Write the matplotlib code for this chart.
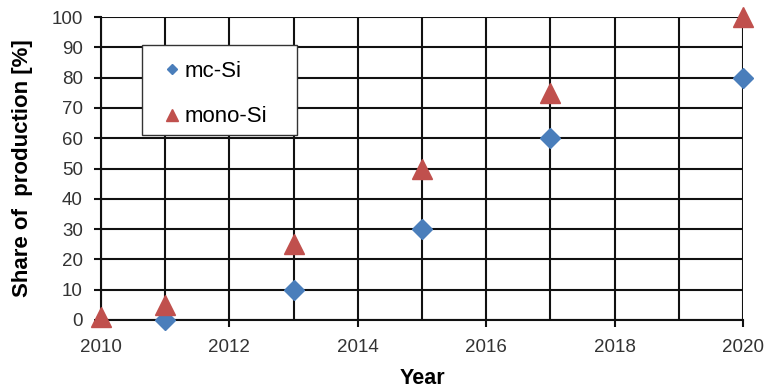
import matplotlib
matplotlib.use("Agg")
import matplotlib.pyplot as plt
from matplotlib.patches import Rectangle
from matplotlib.ticker import MultipleLocator

# Production share by wafer type
mc_years = [2011, 2013, 2015, 2017, 2020]
mc_share = [0, 10, 30, 60, 80]
mono_years = [2010, 2011, 2013, 2015, 2017, 2020]
mono_share = [1, 5, 25, 50, 75, 100]

x_ticks = [2010, 2012, 2014, 2016, 2018, 2020]
y_ticks = list(range(0, 101, 10))

plt.rcParams['font.family'] = ['Liberation Sans', 'DejaVu Sans']

fig = plt.figure(figsize=(7.71, 3.91), dpi=100)
ax = fig.add_axes([0.131, 0.1816, 0.8327, 0.7749])

ax.set_xlim(2010, 2020)
ax.set_ylim(0, 100)
ax.set_xticks(x_ticks)
ax.set_yticks(y_ticks)
ax.xaxis.set_minor_locator(MultipleLocator(1))
ax.grid(True, which='major', color='#111111', linewidth=1.5)
ax.grid(True, which='minor', axis='x', color='#111111', linewidth=1.5)
ax.tick_params(axis='x', which='minor', length=0)
ax.tick_params(axis='both', which='major', length=5, width=1.5, color='#111111',
               labelsize=13.5, labelcolor='#333333')
ax.tick_params(axis='x', pad=9)
ax.tick_params(axis='y', pad=8)
for s in ['top', 'right']:
    ax.spines[s].set_visible(False)
for s in ['left', 'bottom']:
    ax.spines[s].set_color('#111111')
    ax.spines[s].set_linewidth(1.5)
ax.set_axisbelow(True)

ax.plot(mc_years, mc_share, linestyle='none', marker='D', markersize=10,
        color='#4a7ebb', label='mc-Si', clip_on=False, zorder=3)
ax.plot(mono_years, mono_share, linestyle='none', marker='^', markersize=15,
        color='#c0504d', label='mono-Si', clip_on=False, zorder=4)

ax.set_xlabel('Year', fontsize=15.5, fontweight='bold')
ax.xaxis.set_label_coords(0.5, -0.16)
ax.set_ylabel('Share of  production [%]', fontsize=16, fontweight='bold')
ax.yaxis.set_label_coords(-0.106, 0.5)

# legend panel: white box with a thin dark border
ax.add_patch(Rectangle((0.064, 0.6106), 0.2413, 0.297, transform=ax.transAxes,
                       facecolor='white', edgecolor='#333333', linewidth=1.0,
                       zorder=4.5))
leg = ax.legend(loc='upper left', bbox_to_anchor=(0.064, 0.892), fontsize=16,
                frameon=False, handlelength=1.7, handletextpad=-0.3,
                borderpad=0.5, labelspacing=1.1, markerscale=0.55,
                borderaxespad=0)
leg.set_zorder(5)

fig.savefig('out.png', dpi=100)
